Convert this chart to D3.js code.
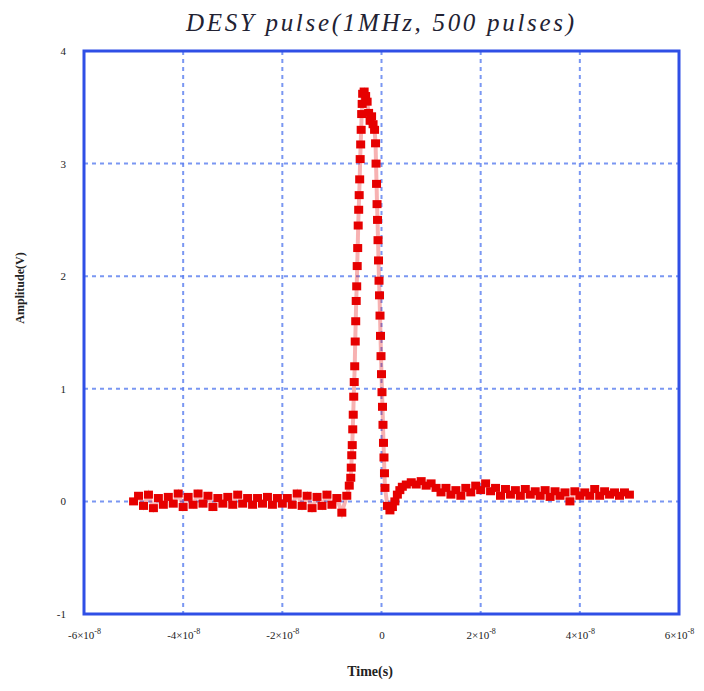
<!DOCTYPE html>
<html><head><meta charset="utf-8">
<script src="https://cdn.jsdelivr.net/npm/d3@7"></script>
<style>body{margin:0;background:#fff}svg{display:block}</style>
</head><body>
<script>
const title = "DESY pulse(1MHz, 500 pulses)";
const xLabel = "Time(s)";
const yLabel = "Amplitude(V)";
// x ticks in units of 1e-8 s
const xTicks = [-6, -4, -2, 0, 2, 4, 6];
const yTicks = [-1, 0, 1, 2, 3, 4];
// time in ns
const timeNs = [
 -50,-49,-48,-47,-46,-45,-44,-43,-42,-41,-40,-39,-38,-37,-36,-35,-34,-33,-32,-31,
 -30,-29,-28,-27,-26,-25,-24,-23,-22,-21,-20,-19,-18,-17,-16,-15,-14,-13,-12,-11,
 -10,-9,-8,-7,-6.5,
 -6.2,-6.1,-6.0,-5.9,-5.8,-5.7,-5.6,-5.5,-5.4,-5.3,-5.2,-5.1,-5.0,-4.9,-4.8,-4.7,-4.6,-4.5,-4.4,-4.3,-4.2,-4.1,-4.0,-3.9,-3.8,
 -3.5,-3.2,-2.9,-2.6,-2.3,-2.0,-1.7,-1.4,
 -1.2,-1.1,-1.0,-0.9,-0.8,-0.7,-0.6,-0.5,-0.4,-0.3,-0.2,-0.1,0.0,0.1,0.2,0.3,0.4,0.5,0.6,0.7,
 1.2,1.7,2.2,2.7,3.2,3.7,4.2,5,6,7,8,9,10,11,12,13,14,15,16,17,18,19,20,
 21,22,23,24,25,26,27,28,29,30,31,32,33,34,35,36,37,38,39,40,41,42,43,44,45,46,47,48,49,50
];
const amplitude = [
 0.00,0.05,-0.04,0.06,-0.06,0.03,-0.03,0.04,-0.02,0.07,-0.05,0.04,-0.03,0.07,-0.02,0.05,-0.05,0.03,-0.02,0.04,
 -0.03,0.06,-0.02,0.03,-0.03,0.03,-0.02,0.04,-0.03,0.03,-0.02,0.03,-0.03,0.07,-0.04,0.05,-0.06,0.04,-0.04,0.06,
 -0.03,0.03,-0.10,0.05,0.14,
 0.21,0.30,0.41,0.50,0.64,0.77,0.93,1.06,1.20,1.42,1.60,1.78,1.91,2.09,2.25,2.45,2.59,2.72,2.86,3.04,3.17,3.30,3.44,3.53,3.62,
 3.64,3.60,3.55,3.45,3.38,3.42,3.35,3.30,
 3.18,3.00,2.82,2.64,2.50,2.32,2.14,1.96,1.83,1.65,1.47,1.29,1.13,0.97,0.84,0.68,0.52,0.39,0.25,0.12,
 -0.04,-0.08,-0.05,0.00,0.06,0.10,0.13,0.15,0.17,0.15,0.18,0.14,0.16,0.12,0.08,0.12,0.06,0.10,0.05,0.12,0.08,0.14,0.10,
 0.16,0.09,0.12,0.05,0.11,0.06,0.10,0.05,0.11,0.06,0.09,0.05,0.10,0.04,0.09,0.05,0.08,0.00,0.09,0.05,0.08,0.05,0.11,0.05,0.09,0.06,0.08,0.05,0.08,0.06
];

const W = 704, H = 691;
const m = {left: 84, right: 25, top: 51, bottom: 77};
const svg = d3.select("body").append("svg").attr("width", W).attr("height", H);
const x = d3.scaleLinear().domain([-6, 6]).range([m.left, W - m.right]);
const y = d3.scaleLinear().domain([-1, 4]).range([H - m.bottom, m.top]);
const blue = "#2f4fe6", grid = "#5a7ef0", red = "#e60000";

// grid
svg.append("g").selectAll("line").data(xTicks.slice(1, -1)).join("line")
  .attr("x1", d => x(d)).attr("x2", d => x(d)).attr("y1", m.top).attr("y2", H - m.bottom)
  .attr("stroke", grid).attr("stroke-width", 2).attr("stroke-dasharray", "4,4").attr("opacity", 0.8);
svg.append("g").selectAll("line").data(yTicks.slice(1, -1)).join("line")
  .attr("y1", d => y(d)).attr("y2", d => y(d)).attr("x1", m.left).attr("x2", W - m.right)
  .attr("stroke", grid).attr("stroke-width", 2).attr("stroke-dasharray", "4,4").attr("opacity", 0.8);

// axes
const xAxis = d3.axisBottom(x).tickValues(xTicks).tickSize(0).tickFormat("");
const gx = svg.append("g").attr("transform", `translate(0,${H - m.bottom})`).call(xAxis);
gx.select(".domain").remove();
gx.selectAll(".tick").each(function(d) {
  const t = d3.select(this).append("text").attr("y", 25).attr("fill", "#222")
    .attr("font-family", "Liberation Serif").attr("font-size", 11).attr("text-anchor", "middle");
  if (d === 0) { t.text("0"); }
  else {
    t.append("tspan").text((d < 0 ? "-" : "") + Math.abs(d) + "×10");
    t.append("tspan").attr("dy", -5).attr("font-size", 8).text("-8");
  }
});
const yAxis = d3.axisLeft(y).tickValues(yTicks).tickSize(0).tickPadding(18).tickFormat(d => String(d));
const gy = svg.append("g").attr("transform", `translate(${m.left},0)`).call(yAxis);
gy.select(".domain").remove();
gy.selectAll("text").attr("font-family", "Liberation Serif").attr("font-size", 11).attr("fill", "#222");

// frame
svg.append("rect").attr("x", m.left).attr("y", m.top).attr("width", W - m.left - m.right)
  .attr("height", H - m.top - m.bottom).attr("fill", "none").attr("stroke", blue).attr("stroke-width", 3);

// data
const data = timeNs.map((t, i) => ({t: t / 10, v: amplitude[i]}));
svg.append("path").datum(data)
  .attr("d", d3.line().x(d => x(d.t)).y(d => y(d.v)))
  .attr("fill", "none").attr("stroke", red).attr("stroke-width", 4).attr("opacity", 0.3);
const sw = 9, sh = 8;
svg.append("g").selectAll("rect").data(data).join("rect")
  .attr("x", d => x(d.t) - sw / 2).attr("y", d => y(d.v) - sh / 2)
  .attr("width", sw).attr("height", sh).attr("fill", red);

// labels
svg.append("text").attr("x", 380).attr("y", 31).attr("text-anchor", "middle")
  .attr("font-family", "Liberation Serif").attr("font-style", "italic").attr("font-size", 25)
  .attr("fill", "#223").attr("textLength", 388).attr("lengthAdjust", "spacing").text(title);
svg.append("text").attr("x", 370).attr("y", 676).attr("text-anchor", "middle")
  .attr("font-family", "Liberation Serif").attr("font-size", 14).attr("font-weight", "bold").attr("fill", "#222").text(xLabel);
svg.append("text").attr("transform", "translate(24,288) rotate(-90)").attr("text-anchor", "middle")
  .attr("font-family", "Liberation Serif").attr("font-size", 12).attr("font-weight", "bold").attr("fill", "#222").text(yLabel);
</script>
</body></html>
